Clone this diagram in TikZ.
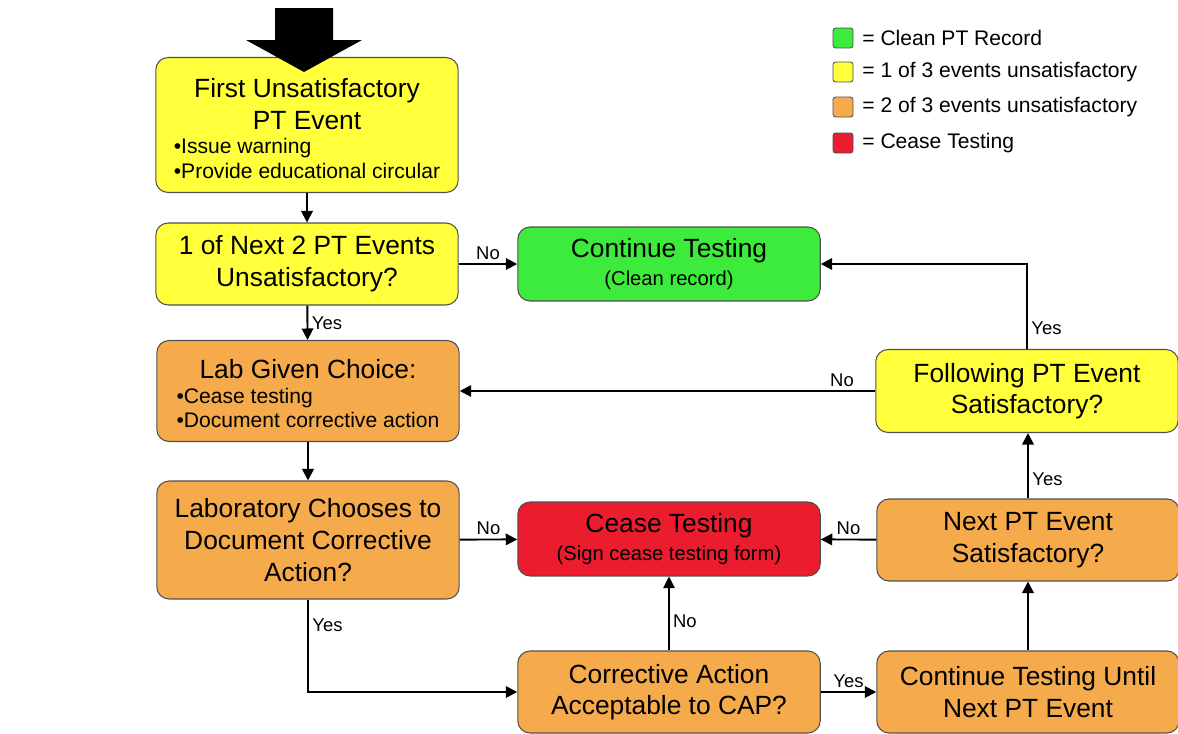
\documentclass[tikz,border=0pt]{standalone}
\usepackage{fontspec}
\setmainfont{Liberation Sans}
\usetikzlibrary{arrows.meta}
\definecolor{capyellow}{HTML}{FFFF3C}
\definecolor{capgreen}{HTML}{3CEB3C}
\definecolor{caporange}{HTML}{F5AA4B}
\definecolor{capred}{HTML}{EB1C2D}
\definecolor{boxline}{HTML}{505050}

\begin{document}
\begin{tikzpicture}[
    x=0.02cm,y=-0.02cm,
    stage/.style={draw=boxline,line width=0.6pt,rounded corners=7pt,
                  minimum width=6.05cm,align=center,inner sep=2pt,
                  font=\fontsize{15}{18}\selectfont},
    flow/.style={-{Triangle[length=2.3mm,width=2.3mm]},line width=1.1pt},
    thinflow/.style={-{Triangle[length=2.3mm,width=2.3mm]},line width=0.6pt},
    answer/.style={font=\fontsize{10.5}{12}\selectfont,inner sep=2pt},
    key/.style={draw=boxline,line width=0.5pt,rounded corners=1.5pt,
                minimum size=0.4cm,inner sep=0pt},
    keytext/.style={anchor=west,inner sep=0pt,font=\fontsize{12}{14}\selectfont}
  ]
    \useasboundingbox (0,0) rectangle (1178,734);
    \newcommand{\subtxt}{\fontsize{12}{14}\selectfont}
    \newcommand{\smalltxt}{\fontsize{11.5}{14}\selectfont}

    % boxes
    \node[stage,fill=capyellow,minimum height=2.7cm] (first) at (307,125)
      {\rule{0pt}{19pt}First Unsatisfactory\\PT Event\\[-4pt]
       {\subtxt\begin{tabular}[t]{@{}l@{}}•Issue warning\\•Provide educational circular\end{tabular}}};
    \node[stage,fill=capyellow,minimum height=1.64cm] (next2) at (307,264)
      {1 of Next 2 PT Events\\Unsatisfactory?};
    \node[stage,fill=capgreen,minimum height=1.48cm] (clean) at (669,264)
      {Continue Testing\\[-2pt]{\smalltxt(Clean record)}};
    \node[stage,fill=caporange,minimum height=2.02cm] (choice) at (308,391)
      {\rule{0pt}{18pt}Lab Given Choice:\\[-4pt]
       {\subtxt\begin{tabular}[t]{@{}l@{}}•Cease testing\\•Document corrective action\end{tabular}}};
    \node[stage,fill=caporange,minimum height=2.36cm] (chooses) at (308,540)
      {Laboratory Chooses to\\Document Corrective\\Action?};
    \node[stage,fill=capred,minimum height=1.48cm] (cease) at (669,539)
      {Cease Testing\\[-2pt]{\smalltxt(Sign cease testing form)}};
    \node[stage,fill=caporange,minimum height=1.64cm] (accept) at (669,692)
      {Corrective Action\\Acceptable to CAP?};
    \node[stage,fill=caporange,minimum height=1.64cm] (until) at (1028,692)
      {Continue Testing Until\\Next PT Event};
    \node[stage,fill=caporange,minimum height=1.64cm] (nextpt) at (1028,540)
      {Next PT Event\\Satisfactory?};
    \node[stage,fill=capyellow,minimum height=1.66cm] (follow) at (1027,391)
      {Following PT Event\\Satisfactory?};

    % entry arrow
    \fill (275,8) -- (333,8) -- (333,40) -- (362,40) -- (304,72)
          -- (246,40) -- (275,40) -- cycle;

    % connectors
    \draw[flow] (first) -- (next2);
    \draw[flow] (next2) -- node[answer,above]{No} (clean);
    \draw[flow] (next2) -- node[answer,right]{Yes} (choice);
    \draw[flow] (choice) -- (chooses);
    \draw[flow] (chooses) -- node[answer,above]{No} (cease);
    \draw[flow] (chooses.south) |- node[answer,right,pos=0.14]{Yes} (accept.west);
    \draw[thinflow] (accept) -- node[answer,right,pos=0.39]{No} (cease);
    \draw[flow] (accept) -- node[answer,above]{Yes} (until);
    \draw[flow] (until) -- (nextpt);
    \draw[flow] (nextpt) -- node[answer,above]{No} (cease);
    \draw[flow] (nextpt.north) -- node[answer,right,pos=0.3]{Yes} (nextpt.north |- follow.south);
    \draw[flow] (follow.west) -- node[answer,above,pos=0.08]{No} (choice.east);
    \draw[flow] (follow.north) |- node[answer,right,pos=0.12]{Yes} (clean.east);

    % legend
    \node[key,fill=capgreen] (kclean) at (843,38) {};
    \node[keytext] (tclean) at (862,38) {= Clean PT Record};
    \node[key,fill=capyellow] (kone) at (843,72) {};
    \node[keytext] (tone) at (862,72) {= 1 of 3 events unsatisfactory};
    \node[key,fill=caporange] (ktwo) at (843,107) {};
    \node[keytext] (ttwo) at (862,107) {= 2 of 3 events unsatisfactory};
    \node[key,fill=capred] (kcease) at (843,143) {};
    \node[keytext] (tcease) at (862,143) {= Cease Testing};
  \end{tikzpicture}
\end{document}
